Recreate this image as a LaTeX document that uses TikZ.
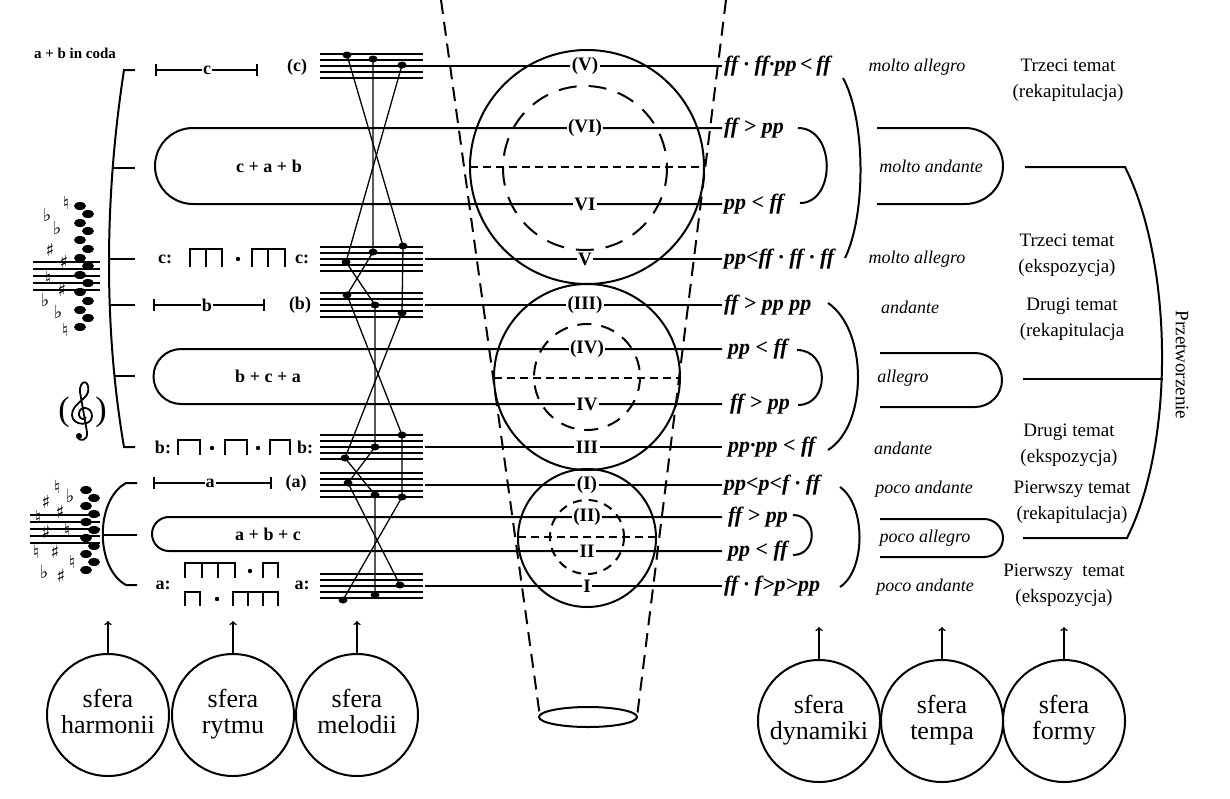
\documentclass[tikz,border=0pt]{standalone}
\usepackage{fontspec}
\setmainfont{Liberation Serif}
\newfontfamily\symfont{DejaVu Sans}
\usepackage{tikz}

\begin{document}
\begin{tikzpicture}[x=1pt, y=-1pt, line width=2pt,
  staff/.style={line width=1.1pt},
  voice/.style={line width=1.3pt},
  lab/.style={fill=white, inner sep=1.5pt, font=\fontsize{19}{21}\selectfont\bfseries},
  rlab/.style={inner sep=1pt, font=\fontsize{18}{20}\selectfont\bfseries},
  dynm/.style={anchor=west, inner sep=1pt, font=\fontsize{22}{24}\selectfont\bfseries\itshape},
  tmp/.style={font=\fontsize{18}{20}\selectfont\itshape},
  frm/.style={align=center, font=\fontsize{19}{26}\selectfont},
  sfera/.style={circle, draw, line width=2pt, minimum size=122pt, inner sep=0pt, align=center, font=\fontsize{26}{26}\selectfont},
  funnel/.style={dash pattern=on 14pt off 8pt},
  acc/.style={font=\symfont\fontsize{18}{18}\selectfont, inner sep=0pt}]
 	\fill[white] (0,0) rectangle (1230,798);
 	\useasboundingbox (0,0) rectangle (1230,798);
 	% rows and pills
 	\draw (423,66) -- (722,66);
 	\draw (722,128) -- (193,128) arc (270:90:38) -- (722,204);
 	\draw (425,259) -- (722,259);
 	\draw (425,305) -- (722,305);
 	\draw (722,349) -- (181,349) arc (270:90:27.5) -- (722,404);
 	\draw (425,447) -- (722,447);
 	\draw (425,485) -- (722,485);
 	\draw (722,517) -- (169,517) arc (270:90:17) -- (722,551);
 	\draw (425,586) -- (722,586);
 	\node[rlab] at (269,166) {c + a + b};
 	\node[rlab] at (268,376) {b + c + a};
 	\node[rlab] at (268,534) {a + b + c};
 	% staffs and melody lines
 	\foreach \y in {66,259,305,447,485,586}
 	  \foreach \d in {-12,-6,0,6,12}
 	    \draw[staff] (320,\y+\d) -- (423,\y+\d);
 	\draw[voice] (347,55) -- (403,246) -- (402,313) -- (345,458) -- (375,495) -- (375,595);
 	\draw[voice] (373,59) -- (373,252) -- (347,295) -- (402,435) -- (402,497) -- (343,600);
 	\draw[voice] (402,65) -- (346,262) -- (375,305) -- (375,447) -- (348,483) -- (400,585);
 	\foreach \x/\y in {347/55,373/59,402/65,346/262,373/252,403/246,347/295,375/305,402/313,
 	  402/435,375/447,345/458,348/483,375/495,402/497,400/585,375/595,343/600}
 	  \fill (\x,\y) ellipse (4.5 and 3.5);
 	% spheres of the circles
 	\draw (587,167) circle (117);
 	\draw (587,377) circle (93);
 	\draw (587,538) circle (69);
 	\draw[dash pattern=on 18pt off 12pt] (585,168) circle (82);
 	\draw[dash pattern=on 14pt off 10pt] (587,377) circle (53);
 	\draw[dash pattern=on 9pt off 7pt] (587,537) circle (37);
 	\draw[dash pattern=on 8pt off 5pt] (470,167) -- (704,167);
 	\draw[dash pattern=on 8pt off 5pt] (494,378) -- (680,378);
 	\draw[dash pattern=on 8pt off 5pt] (518,537) -- (656,537);
 	\draw[funnel] (441,0) -- (540,717);
 	\draw[funnel] (726,0) -- (637,717);
 	\draw (588,717) ellipse (49 and 10);
 	\node[lab] at (585,66) {(V)};
 	\node[lab] at (585,128) {(VI)};
 	\node[lab] at (585,204) {VI};
 	\node[lab] at (585,259) {V};
 	\node[lab] at (585,305) {(III)};
 	\node[lab] at (587,349) {(IV)};
 	\node[lab] at (587,404) {IV};
 	\node[lab] at (587,447) {III};
 	\node[lab] at (587,485) {(I)};
 	\node[lab] at (587,517) {(II)};
 	\node[lab] at (587,551) {II};
 	\node[lab] at (587,586) {I};
 	% dynamics
 	\node[dynm] at (722,66) {ff · ff·pp\,<\,ff};
 	\node[dynm] at (722,128) {ff > pp};
 	\node[dynm] at (722,204) {pp < ff};
 	\node[dynm] at (722,259) {pp<ff · ff · ff};
 	\node[dynm] at (722,305) {ff > pp pp};
 	\node[dynm] at (726,349) {pp < ff};
 	\node[dynm] at (728,404) {ff > pp};
 	\node[dynm] at (726,447) {pp·pp < ff};
 	\node[dynm] at (722,485) {pp<p<f · ff};
 	\node[dynm] at (726,517) {ff > pp};
 	\node[dynm] at (726,551) {pp < ff};
 	\node[dynm] at (722,586) {ff · f>p>pp};
 	\draw (843,78) .. controls (866,120) and (866,215) .. (845,258);
 	\draw (798,128) .. controls (836,128) and (836,203) .. (800,203);
 	\draw (828,303) .. controls (868,330) and (868,425) .. (828,450);
 	\draw (797,350) .. controls (830,350) and (830,405) .. (798,405);
 	\draw (840,487) .. controls (866,505) and (866,570) .. (840,587);
 	\draw (793,515) .. controls (818,515) and (818,555) .. (793,555);
 	% tempo
 	\node[tmp] at (917,67) {molto allegro};
 	\node[tmp] at (931,166) {molto andante};
 	\node[tmp] at (917,259) {molto allegro};
 	\node[tmp] at (910,307) {andante};
 	\node[tmp] at (903,378) {allegro};
 	\node[tmp] at (903,448) {andante};
 	\node[tmp] at (924,489) {poco andante};
 	\node[tmp] at (925,538) {poco allegro};
 	\node[tmp] at (925,587) {poco andante};
 	\draw (877,128) -- (965,128) arc (-90:90:38) -- (877,204);
 	\draw (880,353) -- (975,353) arc (-90:90:27) -- (880,407);
 	\draw (880,519) -- (984,519) arc (-90:90:19) -- (880,557);
 	% form
 	\node[frm] at (1068,80) {Trzeci temat\\(rekapitulacja)};
 	\node[frm] at (1067,255) {Trzeci temat\\(ekspozycja)};
 	\node[frm] at (1072,319) {Drugi temat\\(rekapitulacja};
 	\node[frm] at (1069,445) {Drugi temat\\(ekspozycja)};
 	\node[frm] at (1072,502) {Pierwszy temat\\(rekapitulacja)};
 	\node[frm] at (1064,585) {Pierwszy\ \ temat\\(ekspozycja)};
 	\draw (1025,167) -- (1125,167) .. controls (1172,260) and (1176,440) .. (1127,538) -- (1023,538);
 	\draw (1023,379) -- (1163,379);
 	\node[rotate=-90, font=\fontsize{19}{21}\selectfont] at (1182,365) {Przetworzenie};
 	% left bracket, harmony
 	\draw (135,70) -- (124,70) .. controls (104,200) and (104,330) .. (124,447) -- (135,447);
 	\draw (113,168) -- (135,168);
 	\draw (109,259) -- (135,259);
 	\draw (109,305) -- (135,305);
 	\draw (114,376) -- (135,376);
 	\draw (137,483) -- (126,483) .. controls (95,500) and (95,568) .. (126,585) -- (137,585);
 	\draw (102,535) -- (137,535);
 	\node[font=\fontsize{15}{15}\selectfont\bfseries] at (75,53) {a + b in coda};
 	\foreach \y in {262,269,276,283,290}
 	  \draw[staff] (33,\y) -- (100,\y);
 	\foreach \x/\y in {80/206,88/214,80/223,88/231,80/240,88/249,80/258,88/266,80/275,88/283,80/292,88/301,80/310,88/318,80/327}
 	  \fill (\x,\y) ellipse (6 and 4);
 	\foreach \x/\y/\s in {47/215/♭,66/203/♮,57/228/♭,50/250/♯,64/262/♯,48/278/♮,62/290/♯,45/300/♭,58/312/♭,65/330/♮}
 	  \node[acc] at (\x,\y) {\s};
 	\foreach \y in {515,522,529,536,543}
 	  \draw[staff] (30,\y) -- (100,\y);
 	\foreach \x/\y in {86/490,94/498,86/506,94/514,86/522,94/530,86/538,94/546,86/554,94/562,86/570}
 	  \fill (\x,\y) ellipse (6 and 4);
 	\foreach \x/\y/\s in {57/487/♮,46/502/♯,70/496/♭,38/517/♮,60/512/♯,46/532/♯,67/530/♮,36/552/♮,55/552/♯,72/562/♮,44/572/♭,61/576/♯}
 	  \node[acc] at (\x,\y) {\s};
 	% treble clef in brackets
 	\node[font=\fontsize{34}{34}\selectfont] at (64,412) {(};
 	\node[font=\fontsize{34}{34}\selectfont] at (101,412) {)};
 	\draw[line width=1.8pt] (77,437) .. controls (80,442) and (88,441) .. (87,432)
 	  -- (80,392) .. controls (79,380) and (90,378) .. (88,392)
 	  .. controls (86,400) and (72,404) .. (72,415) .. controls (72,426) and (92,427) .. (92,416)
 	  .. controls (92,406) and (78,405) .. (79,415) .. controls (80,420) and (85,420) .. (86,417);
 	\fill (79,436) circle (3);
 	% rhythm
 	\draw[|-|, line width=1.8pt] (155,70) -- (258,70);
 	\node[rlab, fill=white] at (207,70) {c};
 	\node[rlab] at (297,67) {(c)};
 	\draw[|-|, line width=1.8pt] (153,305) -- (265,305);
 	\node[rlab, fill=white] at (207,305) {b};
 	\node[rlab] at (300,305) {(b)};
 	\draw[|-|, line width=1.8pt] (153,483) -- (272,483);
 	\node[rlab, fill=white] at (210,483) {a};
 	\node[rlab] at (296,483) {(a)};
 	\node[rlab] at (165,259) {c:};
 	\draw (190,267) -- (190,249) -- (222,249) -- (222,267) (206,249) -- (206,267);
 	\fill (238,259) circle (2.2);
 	\draw (252,267) -- (252,249) -- (285,249) -- (285,267) (268,249) -- (268,267);
 	\node[rlab] at (302,259) {c:};
 	\node[rlab] at (163,447) {b:};
 	\draw (178,455) -- (178,440) -- (200,440) -- (200,455);
 	\fill (212,448) circle (2.2);
 	\draw (225,455) -- (225,440) -- (247,440) -- (247,455);
 	\fill (258,448) circle (2.2);
 	\draw (270,455) -- (270,440) -- (290,440) -- (290,455);
 	\node[rlab] at (305,447) {b:};
 	\node[rlab] at (163,585) {a:};
 	\draw (185,578) -- (185,563) -- (235,563) -- (235,578) (202,563) -- (202,578) (218,563) -- (218,578);
 	\fill (250,571) circle (2.2);
 	\draw (263,578) -- (263,563) -- (278,563) -- (278,578);
 	\draw (185,606) -- (185,592) -- (200,592) -- (200,606);
 	\fill (217,599) circle (2.2);
 	\draw (233,606) -- (233,592) -- (278,592) -- (278,606) (248,592) -- (248,606) (263,592) -- (263,606);
 	\node[rlab] at (302,585) {a:};
 	% spheres
 	\node[sfera] (harm) at (108,715) {sfera\\harmonii\strut};
 	\node[sfera] (ryt) at (233,715) {sfera\\rytmu\strut};
 	\node[sfera] (mel) at (357,715) {sfera\\melodii\strut};
 	\node[sfera] (dynam) at (819,721) {sfera\\dynamiki\strut};
 	\node[sfera] (temp) at (942,721) {sfera\\tempa\strut};
 	\node[sfera] (form) at (1064,721) {sfera\\formy\strut};
 	\foreach \n in {harm,ryt,mel,dynam,temp,form}
 	  \draw[->, line width=1.6pt] (\n.north) -- ++(0,-32);
\end{tikzpicture}
\end{document}
